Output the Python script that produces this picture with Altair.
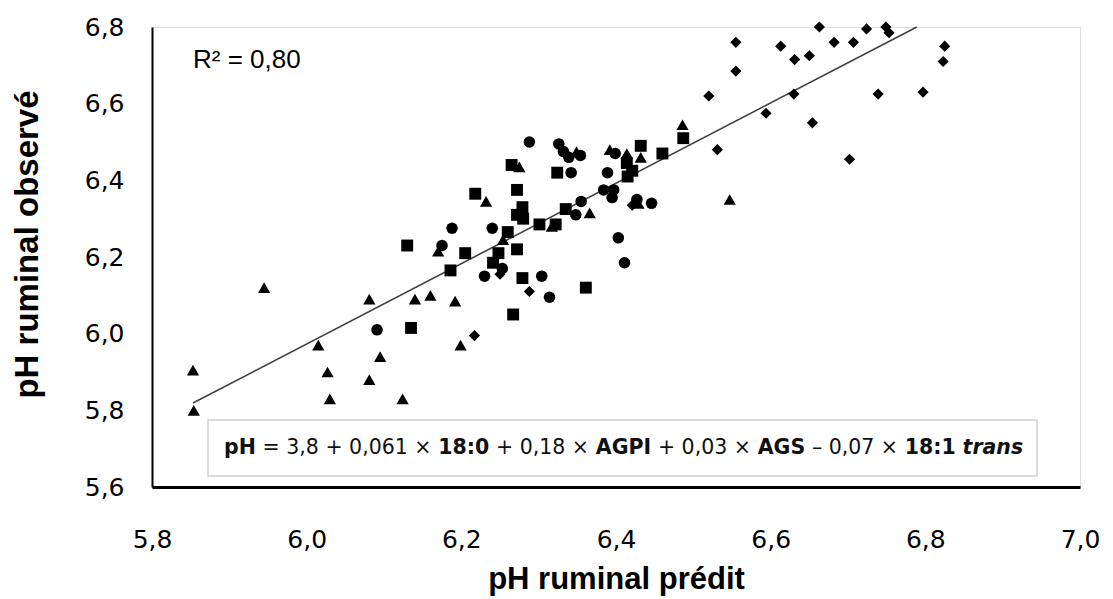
import altair as alt
import pandas as pd

# ---- data ----
tri_x = [5.853, 5.854, 5.945, 6.015, 6.027, 6.030, 6.081, 6.095, 6.081, 6.124,
         6.140, 6.160, 6.192, 6.199, 6.170, 6.254, 6.232, 6.275, 6.349, 6.317,
         6.366, 6.392, 6.414, 6.432, 6.486, 6.429, 6.547]
tri_y = [5.905, 5.800, 6.120, 5.970, 5.900, 5.830, 6.090, 5.940, 5.880, 5.830,
         6.090, 6.100, 6.085, 5.970, 6.215, 6.245, 6.345, 6.435, 6.475, 6.280,
         6.315, 6.480, 6.470, 6.460, 6.545, 6.340, 6.350]

sq_x = [6.130, 6.135, 6.186, 6.205, 6.218, 6.241, 6.248, 6.272, 6.279, 6.267,
        6.361, 6.265, 6.324, 6.272, 6.279, 6.272, 6.280, 6.301, 6.322, 6.260,
        6.335, 6.432, 6.460, 6.487, 6.414, 6.421, 6.415]
sq_y = [6.230, 6.015, 6.165, 6.210, 6.365, 6.185, 6.210, 6.220, 6.145, 6.050,
        6.120, 6.440, 6.420, 6.375, 6.330, 6.310, 6.300, 6.285, 6.285, 6.265,
        6.325, 6.490, 6.470, 6.510, 6.445, 6.425, 6.410]

ci_x = [6.091, 6.175, 6.188, 6.240, 6.230, 6.253, 6.304, 6.314, 6.288, 6.326,
        6.332, 6.339, 6.354, 6.342, 6.355, 6.348, 6.389, 6.399, 6.384, 6.397,
        6.395, 6.427, 6.446, 6.403, 6.411]
ci_y = [6.010, 6.230, 6.275, 6.275, 6.150, 6.170, 6.150, 6.095, 6.500, 6.495,
        6.475, 6.460, 6.465, 6.420, 6.345, 6.310, 6.420, 6.470, 6.375, 6.375,
        6.355, 6.350, 6.340, 6.250, 6.185]

di_x = [6.217, 6.250, 6.288, 6.421, 6.520, 6.531, 6.555, 6.555, 6.594, 6.613,
        6.631, 6.650, 6.663, 6.682, 6.707, 6.724, 6.749, 6.753, 6.825, 6.823,
        6.630, 6.654, 6.739, 6.797, 6.702]
di_y = [5.995, 6.155, 6.110, 6.335, 6.620, 6.480, 6.760, 6.685, 6.575, 6.750,
        6.715, 6.725, 6.800, 6.760, 6.760, 6.795, 6.800, 6.785, 6.750, 6.710,
        6.625, 6.550, 6.625, 6.630, 6.455]

line_x = [5.853, 6.789]
line_y = [5.819, 6.800]

x_ticks = [5.8, 6.0, 6.2, 6.4, 6.6, 6.8, 7.0]
y_ticks = [5.6, 5.8, 6.0, 6.2, 6.4, 6.6, 6.8]

r2_text = "R² = 0,80"
eq_segments = ["pH", "= 3,8 + 0,061 ×", "18:0", "+ 0,18 ×", "AGPI",
               "+ 0,03 ×", "AGS", "– 0,07 ×", "18:1", "trans"]
eq_styles = ["b", "n", "b", "n", "b", "n", "b", "n", "b", "bi"]

# ---- tables ----
rows = []
for g, xs, ys in [("tri", tri_x, tri_y), ("sq", sq_x, sq_y),
                  ("ci", ci_x, ci_y), ("di", di_x, di_y)]:
    for a, b in zip(xs, ys):
        rows.append({"pred": a, "obs": b, "g": g})
pts = pd.DataFrame(rows)
line_df = pd.DataFrame({"pred": line_x, "obs": line_y})

LABEL_FONT = "DejaVu Sans, sans-serif"
TITLE_FONT = "Liberation Sans, Arial, sans-serif"
comma = "replace(format(datum.value, '.1f'), '.', ',')"

xscale = alt.Scale(domain=[5.8, 7.0], nice=False, zero=False)
yscale = alt.Scale(domain=[5.6, 6.8], nice=False, zero=False)

xaxis = alt.Axis(values=x_ticks, labelExpr=comma, grid=False, ticks=False,
                 domainColor="#000000", domainWidth=3, labelFont=LABEL_FONT,
                 labelFontSize=25, labelColor="#000000", labelPadding=40,
                 labelFlush=False, labelOverlap=False, labelBound=False,
                 title="pH ruminal prédit", titleFont=TITLE_FONT, titleFontSize=31,
                 titleFontWeight="bold", titleColor="#000000", titlePadding=12)
yaxis = alt.Axis(values=y_ticks, labelExpr=comma, grid=False, ticks=False,
                 domainColor="#000000", domainWidth=2, labelFont=LABEL_FONT,
                 labelFontSize=25, labelColor="#000000", labelPadding=28,
                 labelFlush=False, labelOverlap=False, labelBound=False,
                 title="pH ruminal observé", titleFont=TITLE_FONT, titleFontSize=33,
                 titleFontWeight="bold", titleColor="#000000", titlePadding=40,
                 titleY=217)

shape_scale = alt.Scale(domain=["tri", "sq", "ci", "di"],
                        range=["triangle-up", "square", "circle", "diamond"])
size_scale = alt.Scale(domain=["tri", "sq", "ci", "di"], range=[150, 125, 135, 120])

points = alt.Chart(pts).mark_point(filled=True, opacity=1, color="#000000").encode(
    x=alt.X("pred:Q", scale=xscale, axis=xaxis),
    y=alt.Y("obs:Q", scale=yscale, axis=yaxis),
    shape=alt.Shape("g:N", scale=shape_scale, legend=None),
    size=alt.Size("g:N", scale=size_scale, legend=None),
)

reg = alt.Chart(line_df).mark_line(color="#404040", strokeWidth=1.6).encode(
    x=alt.X("pred:Q", scale=xscale),
    y=alt.Y("obs:Q", scale=yscale),
)

one = alt.Data(values=[{"k": 1}])

box = alt.Chart(one).mark_rect(fill="#ffffff", stroke="#cfcfcf", strokeWidth=1.5).encode(
    x=alt.value(56), x2=alt.value(885), y=alt.value(393), y2=alt.value(449))

r2 = alt.Chart(one).mark_text(text=r2_text, align="left", baseline="alphabetic",
                              font=TITLE_FONT, fontSize=26, color="#000000").encode(
    x=alt.value(41), y=alt.value(41))

# approximate DejaVu Sans advance widths (em) to lay the equation pieces side by side
W_REG = {" ": 0.318, ",": 0.318, "=": 0.838, "+": 0.838, "×": 0.838, "–": 0.5}
W_BOLD = {" ": 0.348, ":": 0.4, "A": 0.774, "G": 0.821, "P": 0.733, "I": 0.372,
          "S": 0.72, "p": 0.716, "H": 0.837, "t": 0.478, "r": 0.493, "a": 0.675,
          "n": 0.712, "s": 0.595}

def seg_width(s, bold, fs):
    tot = 0.0
    for ch in s:
        if ch.isdigit():
            tot += 0.696 if bold else 0.636
        else:
            tot += (W_BOLD if bold else W_REG).get(ch, 0.6)
    return tot * fs

EQ_FS = 20.5
gap = 0.33 * EQ_FS
cur = 72.0
eq_layers = []
for s, st in zip(eq_segments, eq_styles):
    bold = "b" in st
    eq_layers.append(
        alt.Chart(one).mark_text(
            text=s, align="left", baseline="middle", font=LABEL_FONT, fontSize=EQ_FS,
            fontWeight="bold" if bold else "normal",
            fontStyle="italic" if "i" in st else "normal",
            color="#111111").encode(x=alt.value(round(cur, 1)), y=alt.value(421)))
    cur += seg_width(s, bold, EQ_FS) + gap

chart = alt.layer(box, reg, points, r2, *eq_layers).properties(
    width=928, height=460,
    autosize=alt.AutoSizeParams(type="none"),
    padding={"left": 152, "top": 27, "right": 33, "bottom": 112},
).configure_view(stroke=None).configure(background="#ffffff")

chart.save("out.html", embed_options={"renderer": "svg", "actions": False})
